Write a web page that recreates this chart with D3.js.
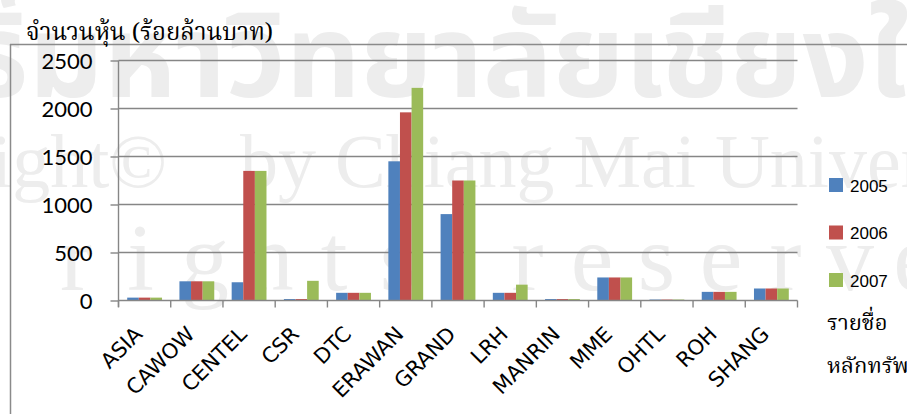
<!DOCTYPE html>
<html>
<head>
<meta charset="utf-8">
<script src="https://cdn.jsdelivr.net/npm/d3@7"></script>
<style>
  html, body { margin: 0; padding: 0; background: #ffffff; }
  svg { display: block; }
</style>
</head>
<body>
<svg id="chart" width="907" height="414"></svg>
<script>
// ---- data ----
const categories = ["ASIA", "CAWOW", "CENTEL", "CSR", "DTC", "ERAWAN", "GRAND", "LRH", "MANRIN", "MME", "OHTL", "ROH", "SHANG"];
const seriesNames = ["2005", "2006", "2007"];
const values2005 = [30, 200, 190, 15, 80, 1450, 900, 80, 15, 240, 10, 90, 125];
const values2006 = [30, 200, 1350, 15, 80, 1960, 1250, 80, 15, 240, 10, 90, 125];
const values2007 = [30, 200, 1350, 205, 80, 2215, 1250, 165, 15, 240, 10, 90, 125];
const yTickValues = [0, 500, 1000, 1500, 2000, 2500];
const seriesColors = ["#4F81BD", "#C0504D", "#9BBB59"];
const yTitle = "จำนวนหุ้น (ร้อยล้านบาท)";
const xTitleLines = ["รายชื่อ", "หลักทรัพย์"];

// ---- build ----
const svg = d3.select("#chart");
const allValues = [values2005, values2006, values2007];
const thaiSerif = "'Noto Serif Thai', Kinnari, Norasi, Laksaman, 'TH Sarabun New', 'Angsana New', 'Liberation Serif', serif";

// watermark (background)
const wm = svg.append("g").attr("fill", "#ededed");
wm.append("text").attr("x", -319).attr("y", 97)
  .attr("font-family", "'Noto Sans Thai', 'Noto Sans', 'DejaVu Sans', sans-serif")
  .attr("font-weight", "bold").attr("font-size", 116)
  .text("ลิขสิทธิ์มหาวิทยาลัยเชียงใหม่");
wm.append("text").attr("x", 167).attr("y", 187).attr("text-anchor", "end")
  .attr("font-family", "'Liberation Serif', serif").attr("font-size", 76)
  .text("Copyright©");
wm.append("text").attr("x", 240).attr("y", 187)
  .attr("font-family", "'Liberation Serif', serif").attr("font-size", 76)
  .text("by Chiang Mai University");
const wmChars = "All rights reserved".split("");
wm.append("text").attr("y", 290)
  .attr("font-family", "'Liberation Serif', serif").attr("font-size", 96)
  .selectAll("tspan").data(wmChars).join("tspan")
  .attr("x", (d, i) => -182 + i * 64.5).attr("text-anchor", "middle")
  .text(d => d === " " ? "\u00a0" : d);

// chart frame
svg.append("path").attr("d", "M10,44.5 H907 M10.5,44 V414")
  .attr("stroke", "#8a8a8a").attr("stroke-width", 1.5).attr("fill", "none");

// scales
const x = d3.scaleBand().domain(categories).range([118.5, 797.5])
  .paddingInner(1 / 3).paddingOuter(1 / 6);
const xs = d3.scaleBand().domain(seriesNames).range([0, x.bandwidth()]);
const y = d3.scaleLinear().domain([0, 2500]).range([300.5, 60.5]);

// gridlines
svg.append("g").selectAll("line").data(yTickValues.filter(v => v > 0)).join("line")
  .attr("x1", 118.5).attr("x2", 797.5)
  .attr("y1", d => y(d)).attr("y2", d => y(d))
  .attr("stroke", "#868686").attr("stroke-width", 1.4);

// bars
const gBars = svg.append("g");
seriesNames.forEach((s, si) => {
  gBars.append("g").attr("fill", seriesColors[si])
    .selectAll("rect").data(categories).join("rect")
    .attr("x", c => x(c) + xs(s))
    .attr("width", xs.bandwidth())
    .attr("y", (c, i) => y(allValues[si][i]))
    .attr("height", (c, i) => y(0) - y(allValues[si][i]));
});

// y axis
const yAxis = d3.axisLeft(y).tickValues(yTickValues).tickSize(8).tickPadding(18).tickFormat(d3.format("d"));
const gy = svg.append("g").attr("transform", "translate(118.5,0)").call(yAxis);
gy.select(".domain").attr("stroke", "#868686").attr("stroke-width", 1.4).attr("d", "M0,60.5 V307");
gy.selectAll(".tick line").attr("stroke", "#868686").attr("stroke-width", 1.4);
gy.selectAll(".tick text").attr("font-family", "Lato, 'Open Sans', sans-serif")
  .attr("font-size", 22).attr("fill", "#000").attr("dy", "0.36em");

// x axis
const xAxis = d3.axisBottom(x).tickSize(0).tickPadding(0);
const gx = svg.append("g").attr("transform", "translate(0,300.5)").call(xAxis);
gx.select(".domain").attr("stroke", "#868686").attr("stroke-width", 1.4).attr("d", "M118.5,0 H797.5");
gx.selectAll(".tick text")
  .attr("font-family", "'DejaVu Sans', Verdana, sans-serif")
  .attr("font-size", 21).attr("fill", "#000")
  .attr("text-anchor", "end")
  .attr("y", 0).attr("dy", 0)
  .attr("transform", "translate(-1,35) rotate(-45)");
// boundary ticks
const bounds = categories.map(c => x(c) - (x.step() - x.bandwidth()) / 2).concat([797.5]);
gx.append("g").selectAll("line").data(bounds).join("line")
  .attr("x1", d => d).attr("x2", d => d).attr("y1", 0).attr("y2", 7)
  .attr("stroke", "#868686").attr("stroke-width", 1.4);

// y title
svg.append("text").attr("x", 26).attr("y", 40)
  .attr("font-family", thaiSerif)
  .attr("font-size", 24).attr("fill", "#000").text(yTitle);

// legend
const lg = svg.append("g").attr("transform", "translate(829,178)");
const li = lg.selectAll("g").data(seriesNames).join("g")
  .attr("transform", (d, i) => `translate(0,${i * 47.5})`);
li.append("rect").attr("width", 14).attr("height", 14).attr("fill", (d, i) => seriesColors[i]);
li.append("text").attr("x", 21).attr("y", 13.5)
  .attr("font-family", "'Liberation Sans', Arial, sans-serif").attr("font-size", 17)
  .attr("fill", "#000").text(d => d);

// x title
svg.append("g").selectAll("text").data(xTitleLines).join("text")
  .attr("x", 827).attr("y", (d, i) => 330 + i * 43)
  .attr("font-family", thaiSerif)
  .attr("font-size", 22).attr("fill", "#000").text(d => d);
</script>
</body>
</html>
